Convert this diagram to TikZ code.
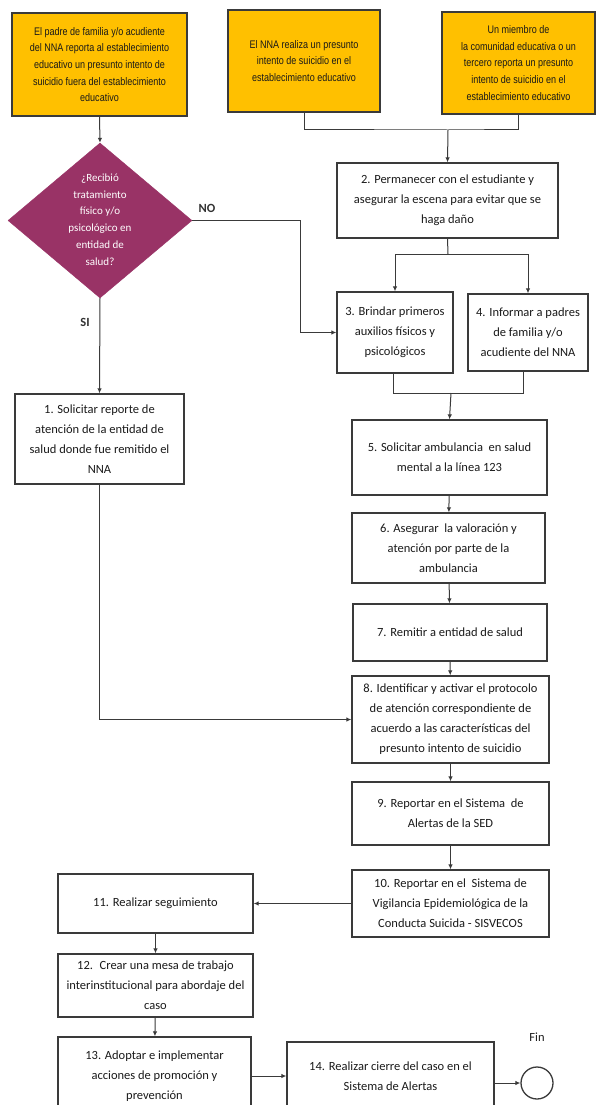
\documentclass[tikz,border=0pt]{standalone}
\usepackage{fontspec}
\setmainfont{Carlito}
\newfontfamily\narrowfont[FakeStretch=0.82]{Liberation Sans}
\usetikzlibrary{arrows.meta,shapes.geometric}
\definecolor{topfill}{HTML}{FFC000}
\definecolor{decfill}{HTML}{993366}
\definecolor{linec}{HTML}{3A3A3A}
\definecolor{txtc}{HTML}{1A1A1A}
\begin{document}
\begin{tikzpicture}[x=1pt,y=-1pt,
  box/.style={draw=linec, line width=1.3pt, fill=white, align=center, inner sep=1pt,
    font=\fontsize{12.5}{20}\selectfont, text=txtc},
  topbox/.style={box, fill=topfill, font=\narrowfont\fontsize{11}{16.7}\selectfont, text=black!90},
  lbl/.style={font=\fontsize{12.5}{15}\selectfont, text=txtc},
  arr/.style={draw=linec, line width=1pt, -{Latex[length=5pt,width=4.5pt]}},
  ln/.style={draw=linec, line width=1pt}]
\useasboundingbox (0,0) rectangle (597,1105);
\clip (0,0) rectangle (597,1105);
\fill[white] (0,0) rectangle (597,1105);

% top boxes
\node[topbox, minimum width=175, minimum height=103] (A) at (99.5,64.5)
  {El padre de familia y/o acudiente\\ del NNA reporta al establecimiento\\ educativo un presunto intento de\\ suicidio fuera del establecimiento\\ educativo};
\node[topbox, minimum width=152, minimum height=102] (B) at (304,61)
  {El NNA realiza un presunto\\ intento de suicidio en el\\ establecimiento educativo};
\node[topbox, minimum width=153, minimum height=102] (C) at (518.5,63)
  {Un miembro de\\ la comunidad educativa o un\\ tercero reporta un presunto\\ intento de suicidio en el\\ establecimiento educativo};

% decision
\node[diamond, draw=decfill, fill=decfill, minimum width=184, minimum height=155, inner sep=0pt] (D) at (100,220.5) {};
\node[align=center, text=white, font=\fontsize{11}{16.8}\selectfont] (Dt) at (100,219.5)
  {¿Recibió\\ tratamiento\\ físico y/o\\ psicológico en\\ entidad de\\ salud?};

% process boxes
\node[box, minimum width=169, minimum height=90] (b1) at (99.5,439)
  {1. Solicitar reporte de\\ atención de la entidad de\\ salud donde fue remitido el\\ NNA};
\node[box, minimum width=221, minimum height=75] (b2) at (447.5,200.5)
  {2. Permanecer con el estudiante y\\ asegurar la escena para evitar que se\\ haga daño};
\node[box, minimum width=116, minimum height=81] (b3) at (395,332.5)
  {3. Brindar primeros\\ auxilios físicos y\\ psicológicos};
\node[box, minimum width=120, minimum height=77] (b4) at (528,332.5)
  {4. Informar a padres\\ de familia y/o\\ acudiente del NNA};
\node[box, minimum width=195, minimum height=75] (b5) at (449.5,457.5)
  {5. Solicitar ambulancia \ en salud\\ mental a la línea 123};
\node[box, minimum width=193, minimum height=70] (b6) at (448.5,548)
  {6. Asegurar \ la valoración y\\ atención por parte de la\\ ambulancia};
\node[box, minimum width=194, minimum height=57] (b7) at (450,632.5)
  {7. Remitir a entidad de salud};
\node[box, minimum width=197, minimum height=87] (b8) at (450.5,719.5)
  {8. Identificar y activar el protocolo\\ de atención correspondiente de\\ acuerdo a las características del\\ presunto intento de suicidio};
\node[box, minimum width=197, minimum height=63] (b9) at (450.5,813.5)
  {9. Reportar en el Sistema \ de\\ Alertas de la SED};
\node[box, minimum width=197, minimum height=67] (b10) at (450.5,903.5)
  {10. Reportar en el \ Sistema de\\ Vigilancia Epidemiológica de la\\ Conducta Suicida - SISVECOS};
\node[box, minimum width=195, minimum height=59] (b11) at (155.5,903.5)
  {11. Realizar seguimiento};
\node[box, minimum width=195, minimum height=63] (b12) at (155.5,985.5)
  {12. \ Crear una mesa de trabajo\\ interinstitucional para abordaje del\\ caso};
\node[box, minimum width=193, minimum height=78] (b13) at (154.5,1076)
  {13. Adoptar e implementar\\ acciones de promoción y\\ prevención};
\node[box, minimum width=207, minimum height=68] (b14) at (390.5,1076)
  {14. Realizar cierre del caso en el\\ Sistema de Alertas};
\node[circle, draw=linec, line width=1.3pt, minimum size=32, inner sep=0pt] (fin) at (537,1083) {};
\node[lbl] (finl) at (537,1037) {Fin};

% labels
\node[lbl, font=\bfseries\fontsize{12.5}{15}\selectfont, text=black!80] (no) at (207,208) {NO};
\node[lbl, font=\bfseries\fontsize{12.5}{15}\selectfont, text=black!80] (si) at (85,322) {SI};

% coordinates
\coordinate (j1) at (448,130);
\coordinate (j2) at (448,254);
\coordinate (j3) at (451,393);
\coordinate (j3a) at (393,393);
\coordinate (j3b) at (523,393);
\coordinate (nob) at (300,332.5);

% connectors
\draw[arr] (A.south) -- (D.north);
\draw[ln] (B.south) |- (j1) -| (C.south);
\draw[arr] (j1) -- (b2.north);
\draw[ln] (b2.south) -- (j2);
\draw[ln] (b3.north |- j2) -- (b4.north |- j2);
\draw[arr] (b3.north |- j2) -- (b3.north);
\draw[arr] (b4.north |- j2) -- (b4.north);
\draw[arr] (D.east) -| (nob) -- (b3.west);
\draw[arr] (D.south) -- (b1.north);
\draw[ln] (b3.south -| j3a) -- (j3a) -- (j3b) -- (b4.south -| j3b);
\draw[arr] (j3) -- (b5.north);
\draw[arr] (b5) -- (b6);
\draw[arr] (b6) -- (b7);
\draw[arr] (b7) -- (b8);
\draw[arr] (b8) -- (b9);
\draw[arr] (b9) -- (b10);
\draw[arr] (b1.south) |- (b8.west);
\draw[arr] (b10.west) -- (b11.east);
\draw[arr] (b11) -- (b12);
\draw[arr] (b12) -- (b13);
\draw[arr] (b13.east |- b14.west) -- (b14.west);
\draw[arr] (b14.east |- fin.west) -- (fin.west);
\end{tikzpicture}
\end{document}
